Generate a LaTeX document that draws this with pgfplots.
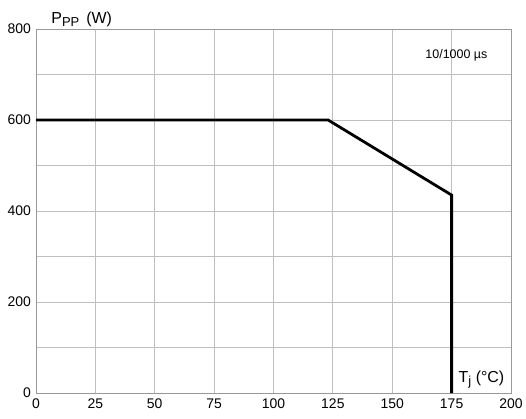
\documentclass[border=0pt]{standalone}
\usepackage{pgfplots}
\pgfplotsset{compat=1.18}
\usepackage{fontspec}
\setmainfont{Liberation Sans}
\newcommand{\sub}[1]{\raisebox{-0.35ex}{\fontsize{13}{15}\selectfont #1}}

\begin{document}
\begin{tikzpicture}
\useasboundingbox (-36bp,-26bp) rectangle (490bp,393bp);
\begin{axis}[
    at={(0,0)}, anchor=south west,
    scale only axis,
    width=475bp, height=364bp,
    xmin=0, xmax=200,
    ymin=0, ymax=800,
    xtick={0,25,...,200},
    ytick={0,100,...,800},
    yticklabels={0,,200,,400,,600,,800},
    grid=major,
    grid style={gray!50, line width=0.8pt},
    axis line style={gray!80, line width=0.8pt},
    tick style={draw=none},
    tick label style={font=\fontsize{14}{16}\selectfont},
    /pgf/number format/assume math mode=true,
    xticklabel style={yshift=-2pt},
    yticklabel style={xshift=-1.5pt},
    clip=false,
]
\addplot[black, line width=2.8pt, line join=miter] coordinates {
    (0,600) (123,600) (175,435) (175,0)
};
\node[anchor=base west, font=\fontsize{16}{18}\selectfont] at (axis cs:5,812) {P\sub{PP}\ \,(W)};
\node[anchor=base west, font=\fontsize{16}{18}\selectfont] at (axis cs:176.5,22) {T\sub{j} (°C)};
\node[font=\fontsize{12.5}{14}\selectfont] at (axis cs:177,743) {10/1000 µs};
\end{axis}
\end{tikzpicture}
\end{document}
